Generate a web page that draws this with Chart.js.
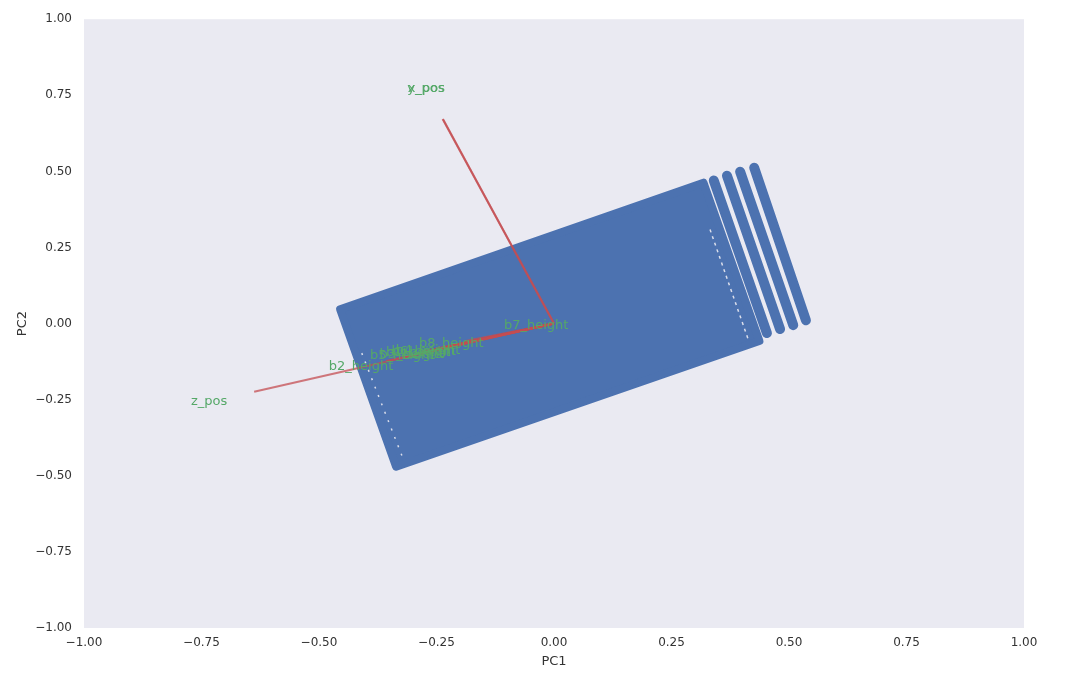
<!DOCTYPE html>
<html>
<head>
<meta charset="utf-8">
<title>PCA biplot</title>
<script src="https://cdn.jsdelivr.net/npm/chart.js@4/dist/chart.umd.min.js"></script>
<style>
  body { margin: 0; background: #fff; }
  #wrap { width: 1072px; height: 676px; }
</style>
</head>
<body>
<div id="wrap"><canvas id="pcaChart" width="1072" height="676"></canvas></div>
<script>
  // Tick values on both axes
  const tickValues = [-1, -0.75, -0.5, -0.25, 0, 0.25, 0.5, 0.75, 1];

  // Outline of the dense block of scores (corner points, closed)
  const blockPC1 = [-0.455, -0.336, 0.437, 0.318, -0.455];
  const blockPC2 = [0.047, -0.470, -0.057, 0.463, 0.047];

  // Separate columns of scores at the right end (top and bottom point)
  const stripeTopPC1 = [0.340, 0.368, 0.396, 0.426];
  const stripeTopPC2 = [0.470, 0.486, 0.499, 0.512];
  const stripeBotPC1 = [0.453, 0.481, 0.509, 0.536];
  const stripeBotPC2 = [-0.031, -0.018, -0.005, 0.011];

  // Thin empty rows inside the block
  const gapPC1 = [[-0.409, -0.321], [0.332, 0.413]];
  const gapPC2 = [[-0.097, -0.444], [0.309, -0.051]];

  // Loadings (arrow tips), labels sit at 1.15x the tip
  const featureNames = ['x_pos', 'y_pos', 'z_pos', 'b1_height', 'b2_height', 'b3_height',
                        'b4_height', 'b5_height', 'b6_height', 'b7_height', 'b8_height'];
  const loadPC1 = [-0.236, -0.237, -0.638, -0.251, -0.357, -0.263, -0.233, -0.281, -0.241, -0.033, -0.190];
  const loadPC2 = [0.671, 0.672, -0.224, -0.084, -0.123, -0.090, -0.078, -0.092, -0.081, -0.007, -0.058];

  const blue = '#4C72B0';
  const arrowColor = 'rgba(196, 78, 82, 0.75)';
  const labelColor = '#55A868';

  Chart.defaults.font.family = '"DejaVu Sans", sans-serif';
  Chart.defaults.color = '#333';

  const datasets = [];

  // arrows on top
  featureNames.forEach(function(name, i) {
    datasets.push({
      label: name,
      data: [{x: 0, y: 0}, {x: loadPC1[i], y: loadPC2[i]}],
      borderColor: arrowColor,
      borderWidth: 2,
      pointRadius: 0,
      fill: false,
      order: 1
    });
  });

  gapPC1.forEach(function(g, i) {
    datasets.push({
      label: 'gap' + i,
      data: [{x: g[0], y: gapPC2[i][0]}, {x: g[1], y: gapPC2[i][1]}],
      borderColor: 'rgba(234, 234, 242, 0.9)',
      borderWidth: 1.5,
      borderDash: i === 0 ? [2, 7] : [3, 4],
      pointRadius: 0,
      fill: false,
      order: 2
    });
  });

  stripeTopPC1.forEach(function(v, i) {
    datasets.push({
      label: 'stripe' + i,
      data: [{x: v, y: stripeTopPC2[i]}, {x: stripeBotPC1[i], y: stripeBotPC2[i]}],
      borderColor: blue,
      borderWidth: 10,
      borderCapStyle: 'round',
      pointRadius: 0,
      fill: false,
      order: 3
    });
  });

  datasets.push({
    label: 'scores',
    data: blockPC1.map(function(v, i) { return {x: v, y: blockPC2[i]}; }),
    borderColor: blue,
    backgroundColor: blue,
    borderWidth: 8,
    borderJoinStyle: 'round',
    borderCapStyle: 'round',
    pointRadius: 0,
    fill: 'shape',
    order: 4
  });

  // plot background
  const bgPlugin = {
    id: 'bg',
    beforeDraw: function(chart) {
      const a = chart.chartArea;
      const c = chart.ctx;
      c.save();
      c.fillStyle = '#EAEAF2';
      c.fillRect(a.left, a.top, a.right - a.left, a.bottom - a.top);
      c.restore();
    }
  };

  // feature names next to arrows
  const labelPlugin = {
    id: 'featureLabels',
    afterDatasetsDraw: function(chart) {
      const c = chart.ctx;
      const xs = chart.scales.x, ys = chart.scales.y;
      c.save();
      c.font = '13px "DejaVu Sans", sans-serif';
      c.fillStyle = labelColor;
      c.textAlign = 'center';
      c.textBaseline = 'middle';
      featureNames.forEach(function(name, i) {
        c.fillText(name, xs.getPixelForValue(loadPC1[i] * 1.15), ys.getPixelForValue(loadPC2[i] * 1.15));
      });
      c.restore();
    }
  };

  function fmt(v) {
    return (v < 0 ? '\u2212' : '') + Math.abs(v).toFixed(2);
  }

  const ctx = document.getElementById('pcaChart').getContext('2d');
  new Chart(ctx, {
    type: 'line',
    data: { datasets: datasets },
    plugins: [bgPlugin, labelPlugin],
    options: {
      responsive: false,
      animation: false,
      layout: { padding: { top: 17, right: 48, left: 0, bottom: 0 } },
      elements: { line: { tension: 0 } },
      plugins: { legend: { display: false }, tooltip: { enabled: false } },
      scales: {
        x: {
          type: 'linear',
          min: -1, max: 1,
          grid: { display: false, drawTicks: false },
          border: { display: false },
          afterBuildTicks: function(s) { s.ticks = tickValues.map(function(v) { return {value: v}; }); },
          afterFit: function(s) { s.height = 48; },
          ticks: { padding: 8, font: { size: 12 }, callback: fmt, maxRotation: 0 },
          title: { display: true, text: 'PC1', font: { size: 13 }, padding: { top: 0, bottom: 7 } }
        },
        y: {
          type: 'linear',
          min: -1, max: 1,
          grid: { display: false, drawTicks: false },
          border: { display: false },
          afterBuildTicks: function(s) { s.ticks = tickValues.map(function(v) { return {value: v}; }); },
          afterFit: function(s) { s.width = 84; },
          ticks: { padding: 12, font: { size: 12 }, callback: fmt },
          title: { display: true, text: 'PC2', font: { size: 13 }, padding: { top: 15, bottom: 0 } }
        }
      }
    }
  });
</script>
</body>
</html>
